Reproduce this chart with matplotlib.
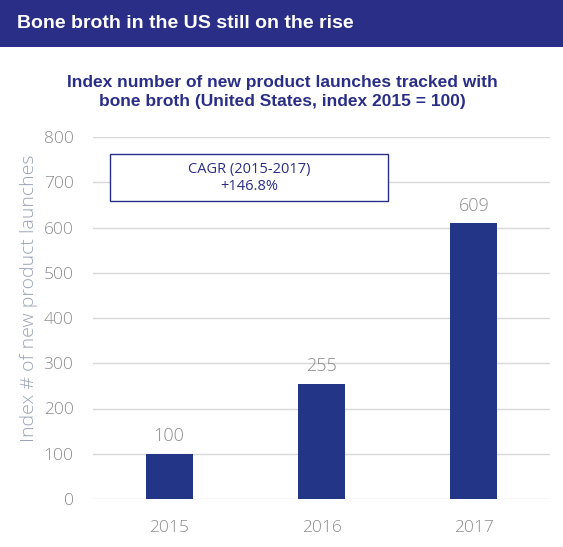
import numpy as np
import matplotlib.pyplot as plt
from matplotlib.patches import Rectangle

years = ['2015', '2016', '2017']
index_vals = [100, 255, 609]
y_ticks = [0, 100, 200, 300, 400, 500, 600, 700, 800]

navy = '#2b2e87'
bar_col = '#233587'
grey = '#8c8c8c'

W, H = 563, 547
fig = plt.figure(figsize=(W / 100, H / 100), dpi=100)

# header band
fig.patches.append(Rectangle((0, 1 - 47 / H), 1, 47 / H, transform=fig.transFigure,
                             facecolor=navy, edgecolor='none'))
fig.text(17 / W, 1 - 23 / H, 'Bone broth in the US still on the rise', color='white',
         fontsize=14, fontweight='bold', family='Liberation Sans', va='center', ha='left')

fig.text(282 / W, 1 - 92 / H,
         'Index number of new product launches tracked with\nbone broth (United States, index 2015 = 100)',
         color=navy, fontsize=12.5, fontweight='bold', family='Liberation Sans',
         ha='center', va='center', linespacing=1.35)

# axes: x 93..550, y0 at 499, y800 at 137
ax = fig.add_axes([93 / W, 1 - 499 / H, (550 - 93) / W, (499 - 137) / H])
x = np.arange(len(years))
ax.bar(x, index_vals, width=0.31, color=bar_col, zorder=3)
ax.set_xlim(-0.5, 2.5)
ax.set_ylim(0, 800)
ax.set_yticks(y_ticks)
ax.set_xticks(x)
ax.set_xticklabels(years)
ax.grid(axis='y', color='#d9d9d9', linewidth=1, zorder=0)
for s in ax.spines.values():
    s.set_visible(False)
ax.tick_params(length=0, labelsize=12.5, labelcolor=grey)
ax.tick_params(axis='x', pad=15)
ax.tick_params(axis='y', pad=14)
for lab in ax.get_xticklabels() + ax.get_yticklabels():
    lab.set_family('Open Sans')
    lab.set_fontweight(300)
ax.set_ylabel('Index # of new product launches', fontsize=14, color='#9aa3b5',
              family='Open Sans', fontweight=300)
ax.yaxis.set_label_coords(-0.12, 0.555)

for xi, v in zip(x, index_vals):
    ax.annotate(str(v), (xi, v), xytext=(0, 6), textcoords='offset points',
                ha='center', va='bottom', fontsize=13, color=grey,
                family='Open Sans', fontweight=300)

# CAGR box
fig.patches.append(Rectangle((110 / W, 1 - 201 / H), (388 - 110) / W, 47 / H,
                             transform=fig.transFigure, facecolor='white',
                             edgecolor=navy, linewidth=1, zorder=5))
fig.text(249 / W, 1 - 178 / H, 'CAGR (2015-2017)\n+146.8%', color=navy, fontsize=10.5,
         family='Open Sans', ha='center', va='center', zorder=6, linespacing=1.15)

fig.savefig('out.png', dpi=100)
